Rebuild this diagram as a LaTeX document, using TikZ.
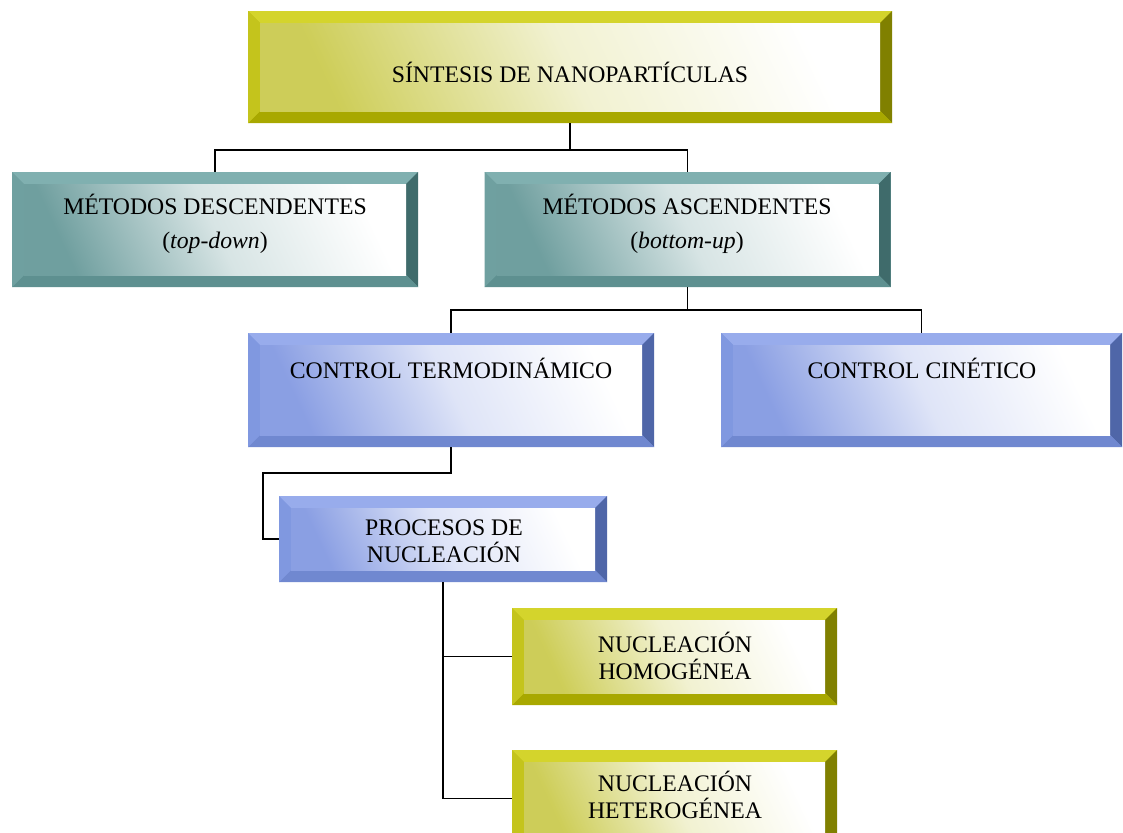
\documentclass[tikz,border=0pt]{standalone}
\usepackage{fontspec}
\setmainfont{Liberation Serif}
\usepackage{tikz}
\usetikzlibrary{calc}

\definecolor{ylwtop}{RGB}{212,212,44}
\definecolor{ylwright}{RGB}{128,128,0}
\definecolor{ylwbot}{RGB}{168,168,0}
\definecolor{ylwleft}{RGB}{196,196,28}
\definecolor{ylwface}{RGB}{200,200,70}
\definecolor{tealtop}{RGB}{128,176,176}
\definecolor{tealright}{RGB}{63,107,107}
\definecolor{tealbot}{RGB}{94,144,144}
\definecolor{tealleft}{RGB}{111,160,160}
\definecolor{tealface}{RGB}{95,148,148}
\definecolor{bluetop}{RGB}{152,172,236}
\definecolor{blueright}{RGB}{79,102,168}
\definecolor{bluebot}{RGB}{112,136,208}
\definecolor{blueleft}{RGB}{128,152,224}
\definecolor{blueface}{RGB}{125,148,224}

\newcommand{\bvw}{9pt}

\tikzset{
  bevelbox/.style={rectangle, inner sep=0pt, fill=#1left,
    path picture={
      \coordinate (bnw) at (path picture bounding box.north west);
      \coordinate (bne) at (path picture bounding box.north east);
      \coordinate (bsw) at (path picture bounding box.south west);
      \coordinate (bse) at (path picture bounding box.south east);
      \coordinate (inw) at ($(bnw)+(\bvw,-\bvw)$);
      \coordinate (ine) at ($(bne)+(-\bvw,-\bvw)$);
      \coordinate (isw) at ($(bsw)+(\bvw,\bvw)$);
      \coordinate (ise) at ($(bse)+(-\bvw,\bvw)$);
      \fill[#1top] (bnw) -- (bne) -- (ine) -- (inw) -- cycle;
      \fill[#1right] (bne) -- (bse) -- (ise) -- (ine) -- cycle;
      \fill[#1bot] (bse) -- (bsw) -- (isw) -- (ise) -- cycle;
      \fill[#1left] (bsw) -- (bnw) -- (inw) -- (isw) -- cycle;
      \shade[top color=#1face!90, bottom color=white, middle color=#1face!25!white, shading angle=115] (inw) rectangle (ise);
    }},
  boxtext/.style={align=center, inner sep=0.75pt, font=\fontsize{17.8}{25.5}\selectfont},
  smalltext/.style={align=center, inner sep=0.75pt, font=\fontsize{17.8}{20.25}\selectfont},
  link/.style={line width=1.3pt}
}

\begin{document}
\begin{tikzpicture}[x=0.75pt,y=0.75pt,yscale=-1,xscale=1]
\useasboundingbox (0,0) rectangle (1123,832);
\clip (0,0) rectangle (1123,832);
\fill[white] (0,0) rectangle (1123,832);

%Shapes: Bevel
\node[bevelbox=ylw, minimum width=483pt, minimum height=84pt] (sintesis) at (570,67) {};
\node[bevelbox=teal, minimum width=304.5pt, minimum height=86.25pt] (desc) at (215,229.5) {};
\node[bevelbox=teal, minimum width=304.5pt, minimum height=86.25pt] (asc) at (687.5,229.5) {};
\node[bevelbox=blue, minimum width=304.5pt, minimum height=85.5pt] (termo) at (451,390) {};
\node[bevelbox=blue, minimum width=300.75pt, minimum height=85.5pt] (cinet) at (921.5,390) {};
\node[bevelbox=blue, minimum width=246pt, minimum height=64.5pt] (proc) at (443,539) {};
\node[bevelbox=ylw, minimum width=243.75pt, minimum height=72.75pt] (homo) at (674.5,656.5) {};
\node[bevelbox=ylw, minimum width=243.75pt, minimum height=72.75pt] (hetero) at (674.5,798.5) {};

% Text Node
\node[boxtext] (sintesis-txt) at (570,72) {SÍNTESIS DE NANOPARTÍCULAS};
% Text Node
\node[boxtext] (desc-txt) at (215,224) {MÉTODOS DESCENDENTES\\(\textit{top-down})};
% Text Node
\node[boxtext] (asc-txt) at (687,224) {MÉTODOS ASCENDENTES\\(\textit{bottom-up})};
% Text Node
\node[boxtext] (termo-txt) at (451,368) {CONTROL TERMODINÁMICO};
% Text Node
\node[boxtext] (cinet-txt) at (922,368) {CONTROL CINÉTICO};
% Text Node
\node[smalltext] (proc-txt) at (444,541) {PROCESOS DE\\NUCLEACIÓN};
% Text Node
\node[smalltext] (homo-txt) at (675,656) {NUCLEACIÓN\\HOMOGÉNEA};
% Text Node
\node[smalltext] (hetero-txt) at (675,795) {NUCLEACIÓN\\HETEROGÉNEA};

%Straight Lines
\draw[link] (sintesis.south) -- ++(0,27) -| (desc.north);
\draw[link] (sintesis.south) -- ++(0,27) -| (asc.north);
\draw[link] (asc.south) -- ++(0,23) -| (termo.north);
\draw[link] (asc.south) -- ++(0,23) -| (cinet.north);
\draw[link] (termo.south) -- ++(0,26) -| ([xshift=-12pt]proc.west) -- (proc.west);
\draw[link] (proc.south) |- (homo.west);
\draw[link] (proc.south) |- (hetero.west);
\end{tikzpicture}
\end{document}
